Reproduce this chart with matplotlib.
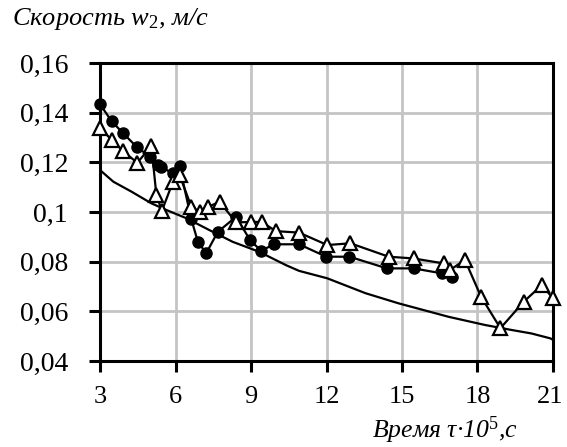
import matplotlib
matplotlib.use("Agg")
import matplotlib.pyplot as plt
from matplotlib.transforms import ScaledTranslation

# Series: open triangles
tri_x = [3.0, 3.46, 3.9, 4.48, 5.04, 5.24, 5.46, 5.9, 6.16, 6.63, 6.96, 7.28, 7.75,
         8.41, 9.0, 9.42, 9.99, 10.91, 12.03, 12.95, 14.47, 15.46, 16.65, 16.9,
         17.5, 18.14, 18.91, 19.84, 20.56, 21.0]
tri_y = [0.134, 0.129, 0.1247, 0.1198, 0.1266, 0.1068, 0.1005, 0.1122, 0.1149, 0.1021,
         0.1001, 0.102, 0.1041, 0.0958, 0.096, 0.096, 0.0923, 0.0917, 0.0867, 0.0874,
         0.082, 0.0813, 0.0793, 0.0766, 0.0807, 0.0659, 0.0532, 0.0639, 0.0706, 0.0652]

# Series: filled circles
dot_x = [3.0, 3.46, 3.9, 4.45, 4.98, 5.31, 5.44, 5.9, 6.16, 6.63, 6.89, 7.22, 7.68,
         8.41, 8.96, 9.4, 9.92, 10.91, 11.99, 12.91, 14.4, 15.46, 16.58, 16.98]
dot_y = [0.1434, 0.1366, 0.1319, 0.1263, 0.1223, 0.1189, 0.118, 0.1156, 0.1185, 0.097,
         0.088, 0.0834, 0.092, 0.0981, 0.0887, 0.0844, 0.087, 0.087, 0.082, 0.082,
         0.0773, 0.0773, 0.0753, 0.0739]

# Series: calculated curve (no markers)
calc_x = [3.0, 3.53, 4.25, 5.04, 5.64, 6.43, 7.35, 8.27, 9.32, 10.39, 10.91, 12.03,
          13.55, 14.87, 16.85, 18.3, 19.35, 20.14, 20.9, 21.0]
calc_y = [0.1169, 0.1122, 0.1082, 0.1035, 0.1008, 0.0975, 0.0927, 0.088, 0.084, 0.0786,
          0.0763, 0.0733, 0.0673, 0.0632, 0.0578, 0.0545, 0.0525, 0.0511, 0.0491, 0.0485]

x_ticks = [3, 6, 9, 12, 15, 18, 21]
y_ticks = [0.04, 0.06, 0.08, 0.1, 0.12, 0.14, 0.16]
y_tick_labels = ["0,04", "0,06", "0,08", "0,1", "0,12", "0,14", "0,16"]

plt.rcParams['font.family'] = ['Liberation Serif', 'DejaVu Serif']
plt.rcParams['mathtext.fontset'] = 'custom'
plt.rcParams['mathtext.it'] = 'Liberation Serif:italic'
plt.rcParams['mathtext.rm'] = 'Liberation Serif'

fig = plt.figure(figsize=(5.67, 4.47), dpi=100)
ax = fig.add_axes([0.1764, 0.1924, 0.7989, 0.6666])

ax.plot(calc_x, calc_y, color='black', lw=1.6, zorder=3)
ax.plot(dot_x, dot_y, color='black', lw=1.6, marker='o', ms=8,
        markerfacecolor='black', markeredgecolor='black', zorder=4, clip_on=False)
ax.plot(tri_x, tri_y, color='black', lw=1.6, marker='^', ms=10,
        markerfacecolor='white', markeredgecolor='black', markeredgewidth=1.6,
        zorder=5, clip_on=False)

ax.set_xlim(3, 21)
ax.set_ylim(0.04, 0.16)
ax.set_xticks(x_ticks)
ax.set_xticklabels([str(t) for t in x_ticks])
ax.set_yticks(y_ticks)
ax.set_yticklabels(y_tick_labels)
ax.grid(True, color='#c4c4c4', lw=2.0, zorder=0)
ax.set_axisbelow(True)
for s in ax.spines.values():
    s.set_linewidth(2.2)
    s.set_color('black')
ax.tick_params(axis='both', direction='out', length=8, width=2.2,
               labelsize=20, colors='black')
ax.tick_params(axis='x', pad=10, labelsize=19)
ax.tick_params(axis='y', pad=15)

last = ax.get_xticklabels()[-1]
last.set_transform(last.get_transform() + ScaledTranslation(-3 / 100, 0, fig.dpi_scale_trans))

fig.text(0.021, 0.957, "Скорость w$_2$, м/с", fontsize=19, style='italic',
         ha='left', va='center')
fig.text(0.9136, 0.038, "Время τ·10$^5$,с", fontsize=18.5, style='italic',
         ha='right', va='center')

fig.savefig("out.png", dpi=100)
